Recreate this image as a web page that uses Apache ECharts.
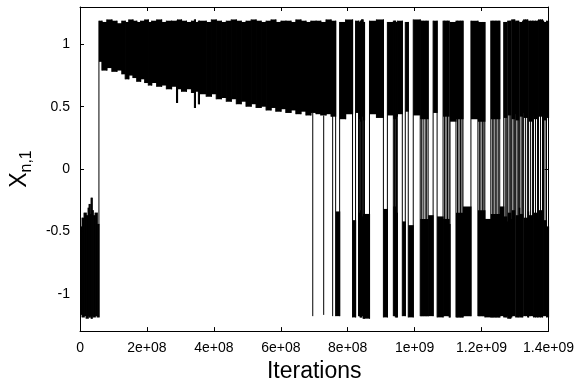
<!DOCTYPE html>
<html>
<head>
<meta charset="utf-8">
<script src="https://cdn.jsdelivr.net/npm/echarts@6/dist/echarts.min.js"></script>
<style>
  html, body { margin: 0; padding: 0; background: #fff; }
  #chart { width: 577px; height: 388px; }
</style>
</head>
<body>
<div id="chart"></div>
<script>
// x positions below are in units of 1e8 iterations
const X_UNIT = 1e8
const xEnd = 14.0

const xTicks = [0, 2e8, 4e8, 6e8, 8e8, 1e9, 1.2e9, 1.4e9]
const yTicks = [-1, -0.5, 0, 0.5, 1]

// first phase: trapped in the lower band
const lockedStart = [0.00, 0.06, 0.12, 0.18, 0.24, 0.27, 0.30, 0.33, 0.36, 0.39, 0.45, 0.51]
const lockedLow = [-1.17, -1.19, -1.18, -1.20, -1.18, -1.19, -1.18, -1.20, -1.18, -1.19, -1.18, -1.19]
const lockedHigh = [-0.46, -0.39, -0.35, -0.37, -0.31, -0.28, -0.36, -0.23, -0.33, -0.37, -0.35, -0.44]

// second phase: upper band, lower edge drifting down
const driftStart = [0.565, 0.654, 0.80, 0.951, 1.10, 1.248, 1.35, 1.456, 1.58, 1.694,
  1.81, 1.932, 2.04, 2.14, 2.29, 2.437, 2.58, 2.735, 2.883, 2.913,
  3.032, 3.18, 3.329, 3.418, 3.448, 3.537, 3.567, 3.77, 3.924, 4.07,
  4.221, 4.37, 4.518, 4.67, 4.815, 4.96, 5.113, 5.26, 5.41, 5.56,
  5.707, 5.85, 6.004, 6.15, 6.302, 6.45, 6.599, 6.75, 6.896, 7.05,
  7.193, 7.35, 7.50]
const driftLow = [0.86, 0.79, 0.81, 0.78, 0.79, 0.76, 0.72, 0.75, 0.73, 0.70,
  0.72, 0.69, 0.67, 0.69, 0.66, 0.67, 0.64, 0.66, 0.53, 0.64,
  0.62, 0.64, 0.61, 0.49, 0.62, 0.52, 0.60, 0.58, 0.60, 0.56,
  0.57, 0.54, 0.56, 0.52, 0.54, 0.50, 0.52, 0.49, 0.50, 0.47,
  0.49, 0.46, 0.48, 0.45, 0.47, 0.44, 0.46, 0.43, 0.45, 0.44,
  0.43, 0.44, 0.42]
const driftHigh = [1.19, 1.18, 1.20, 1.19, 1.17, 1.19, 1.18, 1.20, 1.19, 1.18,
  1.19, 1.20, 1.18, 1.19, 1.20, 1.18, 1.19, 1.19, 1.18, 1.20,
  1.19, 1.18, 1.19, 1.20, 1.18, 1.19, 1.19, 1.18, 1.20, 1.19,
  1.18, 1.19, 1.20, 1.19, 1.18, 1.19, 1.20, 1.19, 1.18, 1.19,
  1.20, 1.18, 1.19, 1.19, 1.18, 1.20, 1.19, 1.18, 1.19, 1.19,
  1.18, 1.20, 1.19]

// single short drops to the lower band
const dipAt = [6.955, 7.282, 7.55]
const dipLow = [-1.18, -1.17, -1.18]
const dipTop = [0.45, 0.43, 0.44]

// third phase: hopping between the two bands
const hopStart = [7.639, 7.758, 7.936, 8.144, 8.234, 8.323, 8.367, 8.412, 8.456, 8.501,
  8.650, 8.858, 9.066, 9.185, 9.363, 9.423, 9.482, 9.631, 9.720, 9.809,
  9.958, 10.166, 10.403, 10.552, 10.671, 10.849, 11.028, 11.057, 11.235, 11.444,
  11.682, 11.890, 12.098, 12.276, 12.543, 12.662, 12.752, 12.781, 12.870, 12.900,
  12.989, 13.019, 13.108, 13.138, 13.227, 13.257, 13.376, 13.405, 13.524, 13.553,
  13.672, 13.702, 13.821, 13.851, 13.940]
const hopUpLow = [null, 0.40, 0.44, null, 0.45, 0.40, 0.38, 0.42, 0.39, null,
  0.44, 0.41, null, 0.43, 0.40, 0.42, 0.44, null, 0.46, null,
  0.43, 0.40, null, 0.45, null, 0.42, null, 0.38, 0.40, null,
  0.40, 0.38, null, 0.40, null, 0.41, null, 0.43, null, 0.40,
  0.44, 0.39, null, 0.42, 0.45, 0.41, null, 0.38, 0.43, 0.40,
  null, 0.42, 0.44, 0.39, 0.41]
const hopUpHigh = [null, 1.18, 1.20, null, 1.19, 1.18, 1.19, 1.20, 1.18, null,
  1.19, 1.20, null, 1.18, 1.19, 1.18, 1.19, null, 1.18, null,
  1.20, 1.19, null, 1.19, null, 1.19, null, 1.18, 1.19, null,
  1.19, 1.18, null, 1.19, null, 1.18, null, 1.19, null, 1.20,
  1.18, 1.19, null, 1.18, 1.19, 1.20, null, 1.19, 1.18, 1.19,
  null, 1.20, 1.19, 1.18, 1.19]
const hopDnLow = [-1.18, null, null, -1.19, null, -1.18, -1.19, -1.18, -1.20, -1.20,
  null, null, -1.19, null, -1.18, -1.19, null, -1.18, null, -1.19,
  null, -1.18, -1.18, null, -1.19, -1.18, -1.19, null, -1.19, -1.18,
  null, -1.18, -1.19, -1.19, -1.18, -1.19, -1.18, -1.20, -1.19, -1.18,
  null, -1.19, -1.18, -1.19, null, -1.18, -1.19, -1.18, null, -1.19,
  -1.18, -1.19, null, -1.18, -1.19]
const hopDnHigh = [-0.34, null, null, -0.41, null, -0.35, -0.33, -0.38, -0.36, -0.36,
  null, null, -0.32, null, -0.30, -0.35, null, -0.42, null, -0.45,
  null, -0.40, -0.37, null, -0.38, -0.40, -0.44, null, -0.35, -0.30,
  null, -0.33, -0.40, -0.36, -0.30, -0.38, -0.42, -0.35, -0.40, -0.33,
  null, -0.37, -0.31, -0.36, null, -0.39, -0.34, -0.37, null, -0.35,
  -0.40, -0.33, null, -0.41, -0.46]

// extra crossings inside the stretches that sit in both bands
const crossAt = [8.346, 8.388, 8.436, 8.477, 9.399, 9.458,
  10.210, 10.255, 10.314, 10.359, 10.894, 10.938, 10.983,
  11.280, 11.325, 11.369, 11.414, 11.934, 11.979, 12.024, 12.068,
  12.321, 12.365, 12.410, 12.454, 12.499,
  12.707, 12.826, 12.945, 13.064, 13.183, 13.316, 13.465, 13.612, 13.762, 13.895]

// one list of blocks, each ends where the next starts
const blocks = []
lockedStart.forEach((s, i) => blocks.push({ x0: s, up: null, dn: [lockedLow[i], lockedHigh[i]] }))
driftStart.forEach((s, i) => blocks.push({ x0: s, up: [driftLow[i], driftHigh[i]], dn: null }))
hopStart.forEach((s, i) => blocks.push({
  x0: s,
  up: hopUpLow[i] == null ? null : [hopUpLow[i], hopUpHigh[i]],
  dn: hopDnLow[i] == null ? null : [hopDnLow[i], hopDnHigh[i]]
}))
blocks.forEach((b, i) => { b.x1 = i + 1 < blocks.length ? blocks[i + 1].x0 : xEnd })

function spanOf(list) {
  const r = []
  list.forEach(b => { if (b.up) r.push(...b.up); if (b.dn) r.push(...b.dn) })
  return [Math.min(...r), Math.max(...r)]
}

// filled bands: one rect per band, [x0, x1, low, high]
const bandData = []
blocks.forEach(b => {
  if (b.up) bandData.push([b.x0 * X_UNIT, b.x1 * X_UNIT, b.up[0], b.up[1]])
  if (b.dn) bandData.push([b.x0 * X_UNIT, b.x1 * X_UNIT, b.dn[0], b.dn[1]])
})

// vertical jumps: block hand-overs, short drops and the extra crossings
const jumpData = []
blocks.forEach((b, i) => {
  if (i === 0) return
  const sp = spanOf([blocks[i - 1], b])
  jumpData.push([b.x0 * X_UNIT, sp[0], sp[1]])
})
dipAt.forEach((x, i) => jumpData.push([x * X_UNIT, dipLow[i], dipTop[i]]))
crossAt.forEach(x => {
  const b = blocks.find(k => k.x0 <= x && x < k.x1)
  const sp = spanOf([b])
  jumpData.push([x * X_UNIT, sp[0], sp[1]])
})

function renderBand(params, api) {
  const p0 = api.coord([api.value(0), api.value(3)])
  const p1 = api.coord([api.value(1), api.value(2)])
  return {
    type: 'rect',
    shape: { x: p0[0], y: p0[1], width: p1[0] - p0[0] + 0.6, height: p1[1] - p0[1] },
    style: { fill: '#000', stroke: null }
  }
}

function renderJump(params, api) {
  const a = api.coord([api.value(0), api.value(1)])
  const c = api.coord([api.value(0), api.value(2)])
  return {
    type: 'line',
    shape: { x1: a[0], y1: a[1], x2: c[0], y2: c[1] },
    style: { stroke: '#000', lineWidth: 1 }
  }
}

function sciLabel(v) {
  if (v === 0) return '0'
  const e = Math.floor(Math.log10(v) + 1e-9)
  const m = +(v / Math.pow(10, e)).toFixed(3)
  return m + 'e+' + String(e).padStart(2, '0')
}

const font = 'Liberation Sans'
const frame = { show: true, onZero: false, lineStyle: { color: '#000', width: 1 } }

let chart = echarts.init(document.getElementById('chart'))
chart.setOption({
    animation: false,
    grid: { left: 78, right: 28, top: 7, bottom: 54 },
    xAxis: [
        {
            type: 'value',
            min: 0,
            max: xEnd * X_UNIT,
            name: 'Iterations',
            nameLocation: 'middle',
            nameGap: 27,
            nameTextStyle: { fontFamily: font, fontSize: 23, color: '#000' },
            axisLine: frame,
            axisTick: { inside: true, length: 4, customValues: xTicks, lineStyle: { color: '#000' } },
            axisLabel: { customValues: xTicks, formatter: sciLabel, fontFamily: font, fontSize: 14, color: '#000', margin: 10 },
            splitLine: { show: false }
        },
        {
            type: 'value',
            position: 'top',
            min: 0,
            max: xEnd * X_UNIT,
            axisLine: frame,
            axisTick: { inside: true, length: 4, customValues: xTicks, lineStyle: { color: '#000' } },
            axisLabel: { show: false },
            splitLine: { show: false }
        }
    ],
    yAxis: [
        {
            type: 'value',
            min: -1.3,
            max: 1.3,
            name: '{x|X}{s|n,1}',
            nameLocation: 'middle',
            nameGap: 44,
            nameTextStyle: {
                rich: {
                    x: { fontFamily: font, fontSize: 23, color: '#000', lineHeight: 27, verticalAlign: 'top' },
                    s: { fontFamily: font, fontSize: 16, color: '#000', lineHeight: 16, verticalAlign: 'bottom' }
                }
            },
            axisLine: frame,
            axisTick: { inside: true, length: 4, customValues: yTicks, lineStyle: { color: '#000' } },
            axisLabel: { customValues: yTicks, fontFamily: font, fontSize: 14, color: '#000', margin: 10 },
            splitLine: { show: false }
        },
        {
            type: 'value',
            position: 'right',
            min: -1.3,
            max: 1.3,
            axisLine: frame,
            axisTick: { inside: true, length: 4, customValues: yTicks, lineStyle: { color: '#000' } },
            axisLabel: { show: false },
            splitLine: { show: false }
        }
    ],
    series: [
        {
            type: 'custom',
            renderItem: renderBand,
            clip: true,
            encode: { x: [0, 1], y: [2, 3] },
            data: bandData
        },
        {
            type: 'custom',
            renderItem: renderJump,
            clip: true,
            encode: { x: 0, y: [1, 2] },
            data: jumpData
        }
    ]
});
</script>
</body>
</html>
